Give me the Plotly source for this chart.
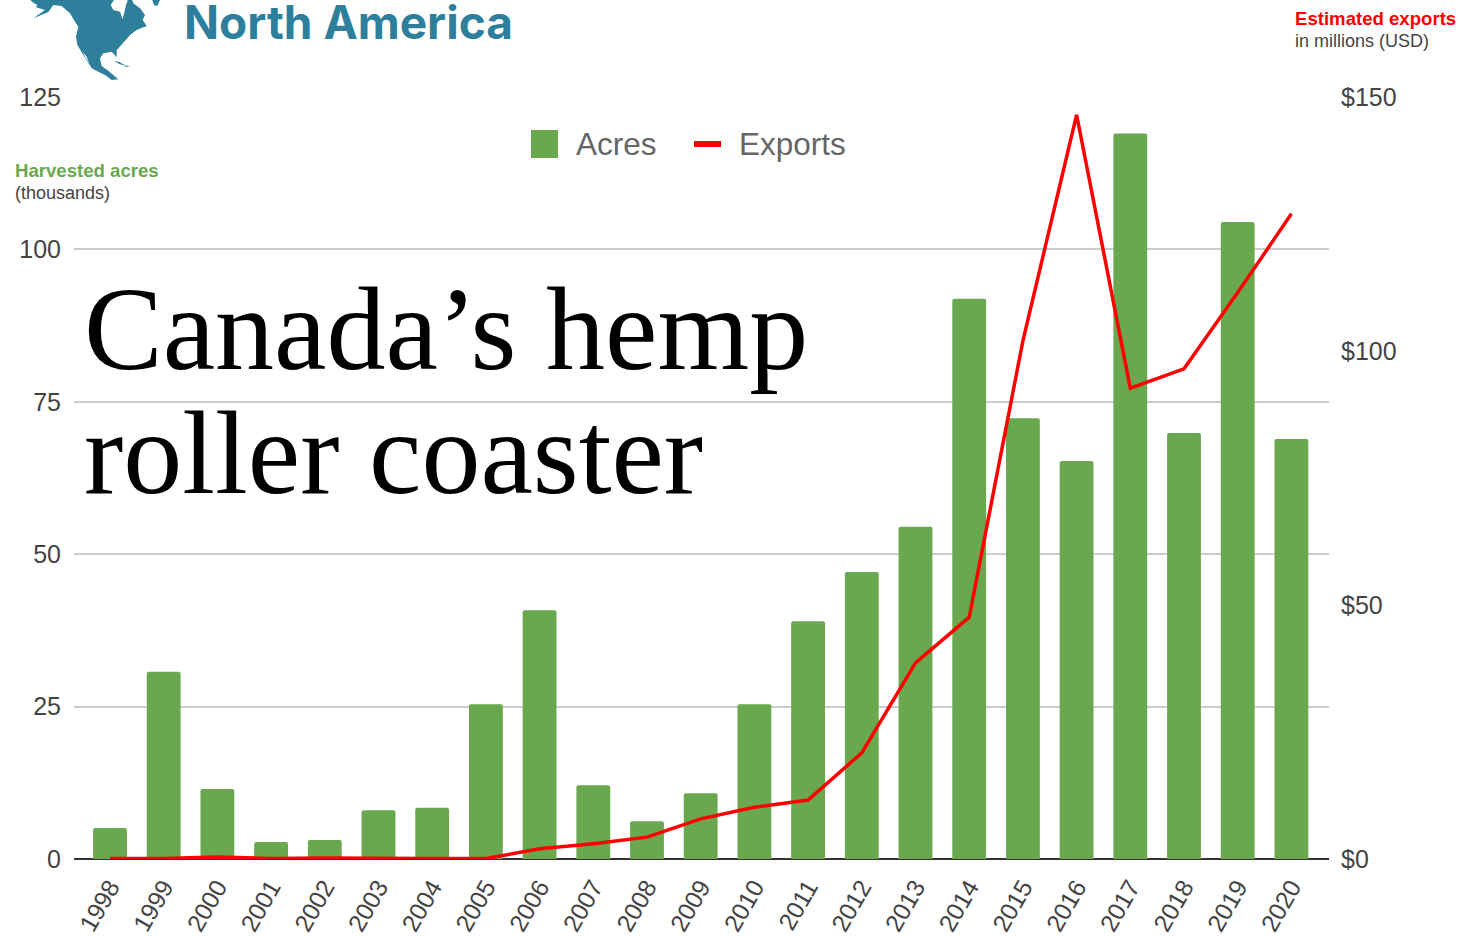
import plotly.graph_objects as go

years = [str(y) for y in range(1998, 2021)]
acres = [5.1, 30.7, 11.5, 2.8, 3.1, 8.0, 8.4, 25.4, 40.8, 12.1, 6.2, 10.8, 25.4,
         39.0, 47.1, 54.5, 91.9, 72.3, 65.3, 119.0, 69.9, 104.5, 68.9]
exports = [0.1, 0.1, 0.4, 0.1, 0.2, 0.1, 0.1, 0.1, 2.0, 3.0, 4.3, 7.9, 10.2,
           11.6, 20.9, 38.6, 47.6, 102.0, 146.5, 92.7, 96.5, 111.5, 127.0]
acre_ticks = [0, 25, 50, 75, 100, 125]
export_ticks = [0, 50, 100, 150]
export_labels = ["$0", "$50", "$100", "$150"]

GREEN = "#6aa84f"
RED = "#ff0000"
TEAL = "#2e7f9c"
INK = "#444444"
L, R, T, B = 74, 1329, 97, 859
W, H = 1458, 936


def px(x):
    return (x - L) / (R - L)


def py(y):
    return (B - y) / (B - T)


def poly(points):
    return "M" + " L".join(f"{px(20 + a / 3):.5f},{py(b / 3):.5f}" for a, b in points) + " Z"


def note(text, x, y, size, color, font="Liberation Sans", anchor="left"):
    return dict(text=text, x=px(x), y=py(y), xref="paper", yref="paper", showarrow=False,
                xanchor=anchor, yanchor="middle", align="left",
                font=dict(size=size, color=color, family=font))


continent = [(25, -5), (40, 8), (52, 15), (48, 22), (75, 30), (40, 55), (85, 36), (100, 15), (125, 18),
             (150, 40), (165, 65), (175, 80), (168, 110), (172, 135), (190, 165), (205, 188),
             (215, 205), (235, 215), (255, 225), (275, 240), (295, 238), (280, 225), (262, 210),
             (245, 198), (240, 175), (250, 160), (275, 155), (290, 172), (290, 150), (310, 128),
             (330, 105), (350, 90), (380, 78), (368, 60), (375, 45), (360, 25), (340, 10), (335, -5)]
hudson = [(272, 15), (285, -5), (325, -5), (318, 15), (308, 58), (300, 35), (280, 30)]
baja = [(188, 155), (200, 170), (207, 188), (196, 172)]
cuba = [(282, 182), (300, 187), (318, 198), (298, 192)]
bahamas = [(310, 197), (330, 197), (320, 201)]
greenland = [(395, -5), (422, -5), (412, 18), (402, 15)]

fig = go.Figure()
fig.add_bar(x=years, y=acres, name="Acres", marker=dict(color=GREEN, line_width=0), width=0.63,
            showlegend=False)
fig.add_scatter(x=years, y=exports, name="Exports", yaxis="y2", mode="lines",
                line=dict(color=RED, width=3.5), showlegend=False)

shapes = [
    dict(type="path", path=poly(continent), xref="paper", yref="paper", fillcolor=TEAL, line_width=0, layer="above"),
    dict(type="path", path=poly(hudson), xref="paper", yref="paper", fillcolor="white", line_width=0, layer="above"),
    dict(type="path", path=poly(baja), xref="paper", yref="paper", fillcolor="white", line_width=0, layer="above"),
    dict(type="path", path=poly(cuba), xref="paper", yref="paper", fillcolor=TEAL, line_width=0, layer="above"),
    dict(type="path", path=poly(bahamas), xref="paper", yref="paper", fillcolor=TEAL, line_width=0, layer="above"),
    dict(type="path", path=poly(greenland), xref="paper", yref="paper", fillcolor=TEAL, line_width=0, layer="above"),
    dict(type="rect", xref="paper", yref="paper", x0=px(531), x1=px(558), y0=py(130), y1=py(158),
         fillcolor=GREEN, line_width=0),
    dict(type="line", xref="paper", yref="paper", x0=px(694), x1=px(721), y0=py(144), y1=py(144),
         line=dict(color=RED, width=6)),
]

annotations = [
    note("<b>North America</b>", 182, 22, 46, TEAL, "Inter"),
    note("<b>Harvested acres</b>", 13, 170, 18.6, GREEN),
    note("(thousands)", 13, 193, 18, INK),
    note("<b>Estimated exports</b>", 1293, 19, 18.6, RED),
    note("in millions (USD)", 1293, 41, 18, INK),
    note("Acres", 574, 144, 31.5, "#666666"),
    note("Exports", 737, 144, 31.5, "#666666"),
    note("Canada’s hemp", 82, 329, 118, "#000000", "Liberation Serif"),
    note("roller coaster", 82, 453, 118, "#000000", "Liberation Serif"),
]

fig.update_layout(
    width=W, height=H, margin=dict(l=L, r=W - R, t=T, b=H - B),
    paper_bgcolor="white", plot_bgcolor="white", bargap=0.37, barcornerradius=2,
    showlegend=False, shapes=shapes, annotations=annotations,
    font=dict(family="Liberation Sans", color=INK),
    xaxis=dict(type="category", range=[-0.67, 22.7], tickangle=-60, tickfont=dict(size=24.5),
               showgrid=False, ticks="", showline=False, zeroline=False, automargin=False,
               ticklabelstandoff=8),
    yaxis=dict(range=[0, 125], tickvals=acre_ticks, tickfont=dict(size=25), gridcolor="#cccccc",
               gridwidth=2, zeroline=True, zerolinecolor="#333333", zerolinewidth=2, ticks="",
               automargin=False, ticklabelstandoff=12),
    yaxis2=dict(range=[0, 150], overlaying="y", side="right", tickvals=export_ticks,
                ticktext=export_labels, tickfont=dict(size=25), showgrid=False, zeroline=False,
                ticks="", automargin=False, ticklabelstandoff=11),
)
fig.write_html("out.html", config=dict(displayModeBar=False), post_script="document.body.style.margin='0';")
